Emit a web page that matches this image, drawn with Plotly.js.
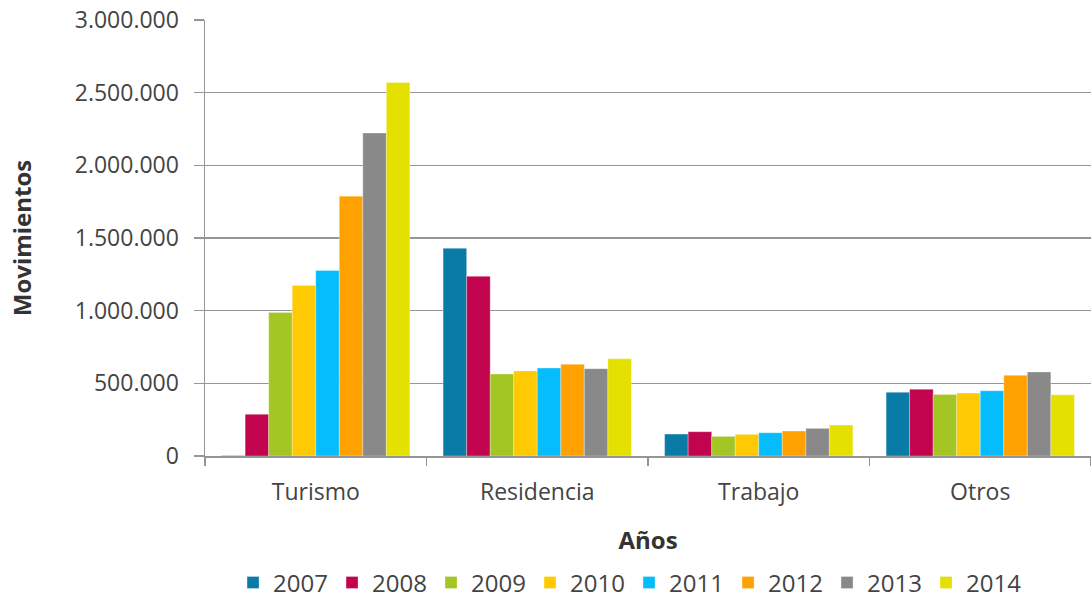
<!DOCTYPE html>
<html>
<head>
<meta charset="utf-8">
<script src="https://cdn.plot.ly/plotly-3.0.1.min.js"></script>
<style>html,body{margin:0;padding:0;background:#fff;}#chart{width:1091px;height:598px;}</style>
</head>
<body>
<div id="chart"></div>
<script>
const categories = ["Turismo", "Residencia", "Trabajo", "Otros"];
const years = ["2007", "2008", "2009", "2010", "2011", "2012", "2013", "2014"];
const v2007 = [3000, 1429000, 151000, 438000];
const v2008 = [287000, 1236000, 167000, 459000];
const v2009 = [988000, 564000, 135000, 424000];
const v2010 = [1174000, 585000, 149000, 433000];
const v2011 = [1277000, 605000, 160000, 449000];
const v2012 = [1788000, 631000, 172000, 555000];
const v2013 = [2222000, 601000, 190000, 578000];
const v2014 = [2570000, 669000, 213000, 422000];
const seriesValues = [v2007, v2008, v2009, v2010, v2011, v2012, v2013, v2014];
const colors = ["#0a7ba7", "#c2044f", "#a3c624", "#ffc903", "#05bcfd", "#ffa201", "#898989", "#e4e100"];

const traces = years.map((y, i) => ({
  type: "bar",
  name: y,
  x: categories,
  y: seriesValues[i],
  marker: {color: colors[i], line: {color: "rgba(255,255,255,0.5)", width: 0.6}},
  hoverinfo: "x+y+name"
}));

const fontFam = "'Open Sans', 'Noto Sans', sans-serif";
const layout = {
  width: 1091, height: 598,
  margin: {l: 205, r: 0, t: 20, b: 142, autoexpand: false},
  paper_bgcolor: "#fff", plot_bgcolor: "#fff",
  separators: ",.",
  font: {family: fontFam, size: 23, color: "#444"},
  barmode: "group",
  bargap: 0.15,
  bargroupgap: 0,
  showlegend: true,
  legend: {orientation: "h", x: 0.4786, xanchor: "center", y: -0.291, yanchor: "middle",
           font: {size: 24, color: "#444"}, itemclick: false, traceorder: "normal",
           entrywidth: 54, entrywidthmode: "pixels"},
  xaxis: {
    type: "category",
    showline: true, linecolor: "#959595", linewidth: 1.5,
    ticks: "outside", tickson: "boundaries", ticklen: 8, tickcolor: "#959595", tickwidth: 1.5,
    tickfont: {size: 23, color: "#444"},
    ticklabelstandoff: 15,
    showgrid: false,
    title: {text: "<b>Años</b>", font: {size: 24, color: "#333"}, standoff: 26}
  },
  yaxis: {
    range: [0, 3000000],
    tickvals: [0, 500000, 1000000, 1500000, 2000000, 2500000, 3000000],
    tickformat: ",d",
    showline: true, linecolor: "#959595", linewidth: 1.5,
    ticks: "outside", ticklen: 10, tickcolor: "#959595", tickwidth: 1.5,
    tickfont: {size: 23, color: "#444"},
    ticklabelstandoff: 10,
    showgrid: true, gridcolor: "#959595", gridwidth: 1.5,
    zeroline: false,
    title: {text: "<b>Movimientos</b>", font: {size: 24, color: "#333"}, standoff: 36}
  }
};

Plotly.newPlot("chart", traces, layout, {displayModeBar: false, staticPlot: true});
</script>
</body>
</html>
